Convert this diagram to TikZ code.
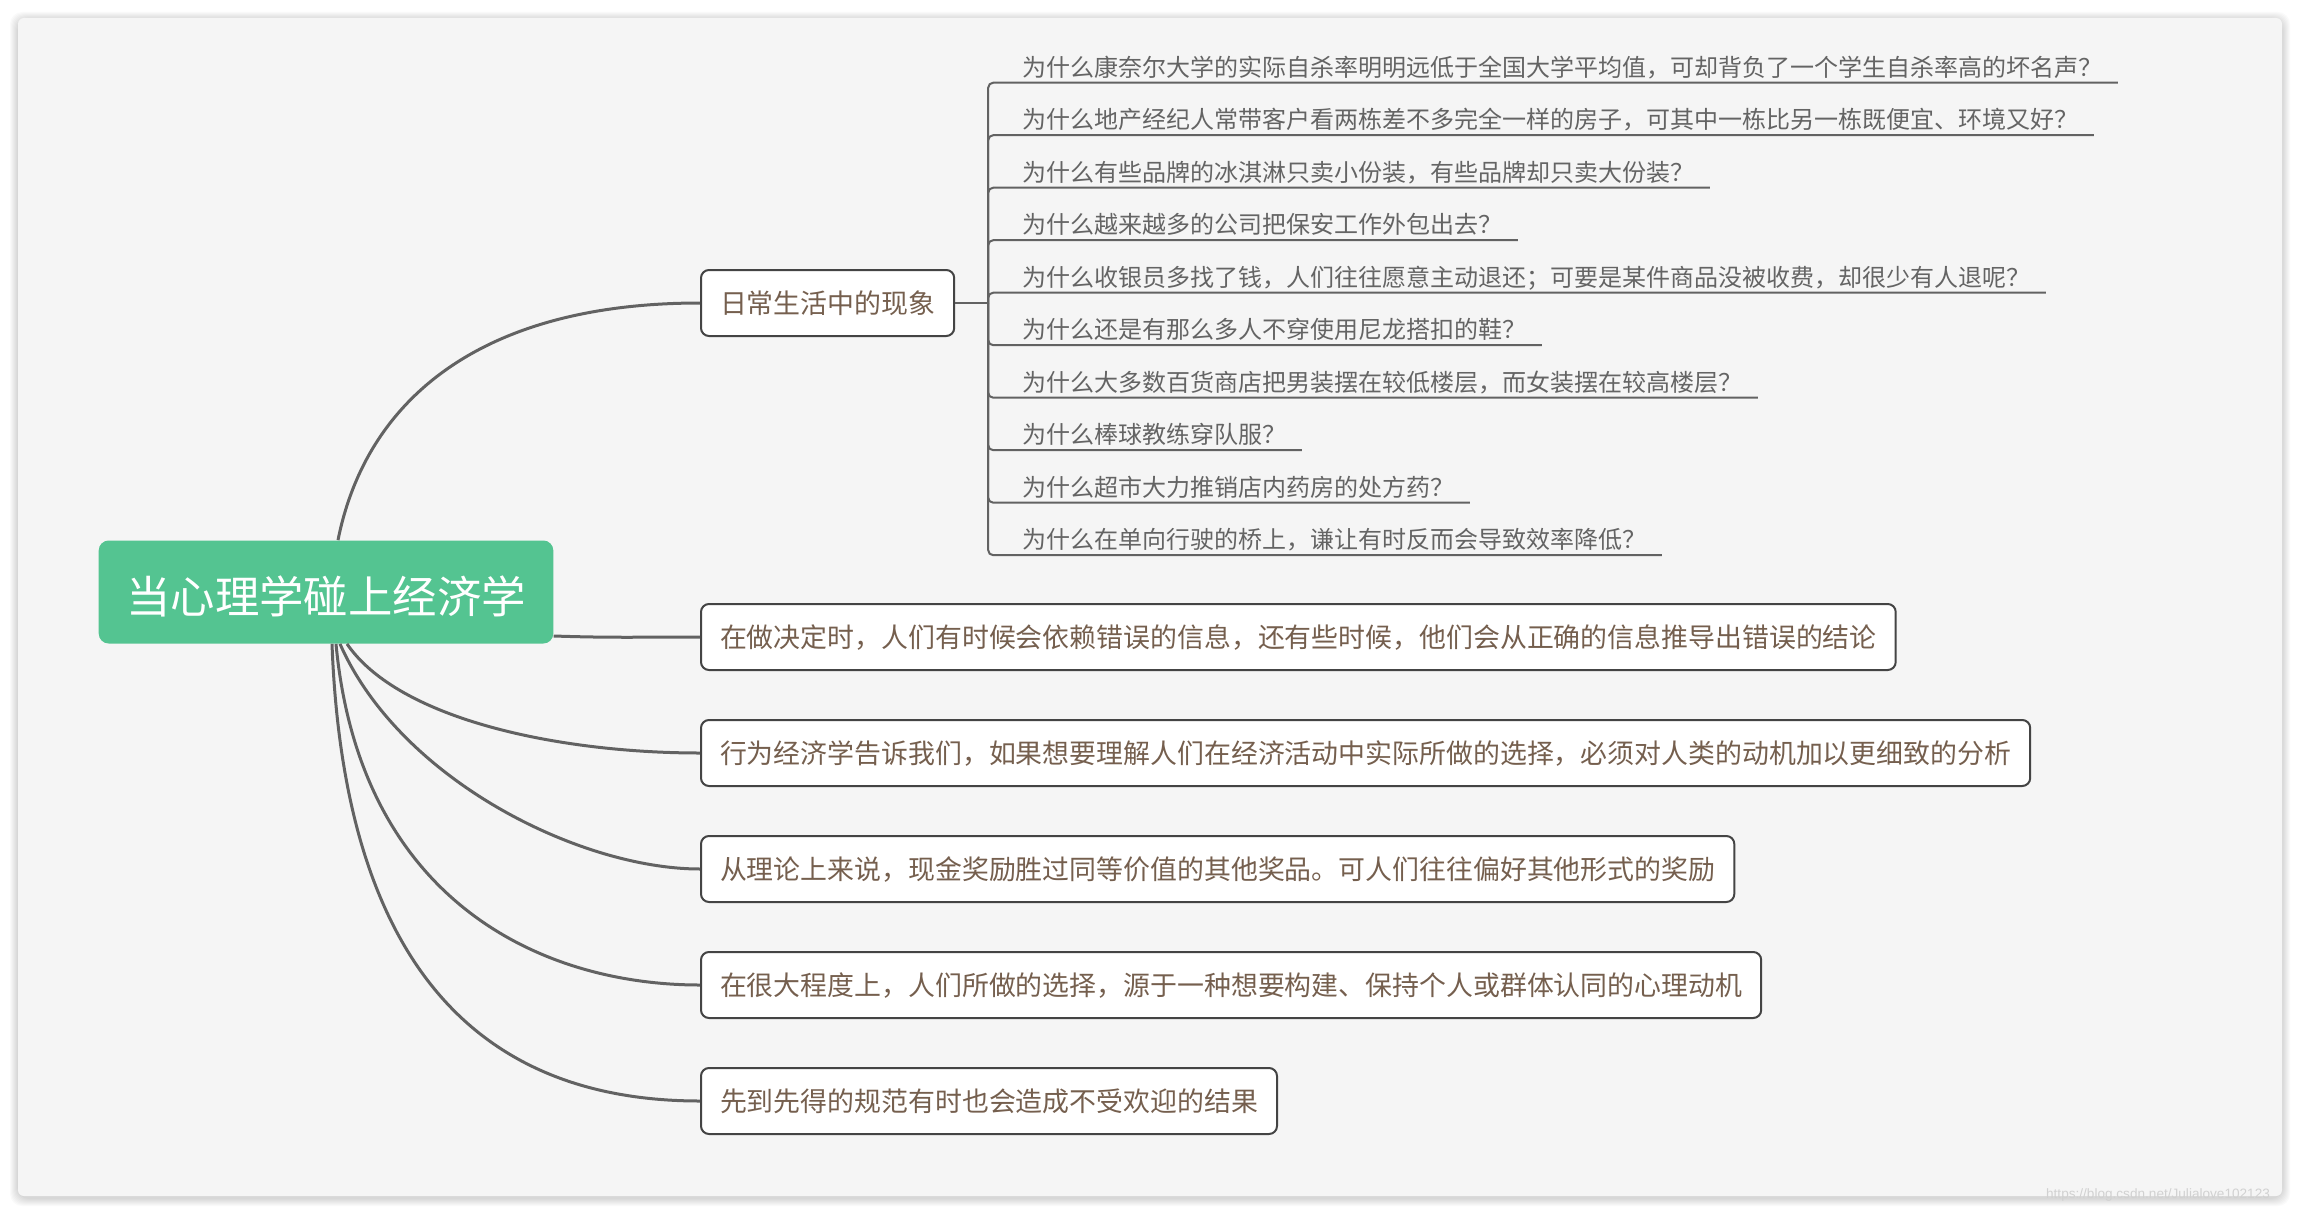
\documentclass[tikz,border=0pt]{standalone}
\usepackage{fontspec}
\setmainfont{Noto Sans CJK SC}
\newfontfamily\wmfont{Liberation Sans}
\usetikzlibrary{positioning}
\definecolor{mintgreen}{RGB}{84,196,145}
\definecolor{panelgray}{RGB}{245,245,245}
\definecolor{edgegray}{RGB}{68,68,68}
\definecolor{linkgray}{RGB}{98,98,98}
\definecolor{inkbrown}{RGB}{117,95,78}
\definecolor{inkgray}{RGB}{100,100,100}

\begin{document}
\begin{tikzpicture}[x=0.5pt,y=-0.5pt,
  topic/.style={rounded corners=4pt,draw=edgegray,line width=1pt,fill=white,text=inkbrown,font=\fontsize{13.45pt}{16pt}\selectfont,inner xsep=9.5pt,inner ysep=0pt,minimum height=33pt,text height=10.4pt,text depth=0pt},
  rootbox/.style={rounded corners=5pt,fill=mintgreen,text=white,font=\fontsize{22.2pt}{26pt}\selectfont,inner xsep=13.75pt,inner ysep=0pt,minimum height=51.5pt,text height=21.4pt,text depth=0pt},
  leaf/.style={anchor=south west,text=inkgray,font=\fontsize{12pt}{14pt}\selectfont,inner xsep=7.5pt,inner ysep=0pt,text height=9pt,text depth=3pt},
  link/.style={linkgray,line width=1.5pt},
  twig/.style={linkgray,line width=1pt,rounded corners=2.5pt}]
\useasboundingbox (0,0) rectangle (2300,1214);
\fill[white] (0,0) rectangle (2300,1214);
% panel with soft shadow
\foreach \s in {1,...,8} \fill[black,opacity=0.018,rounded corners=6pt] ({18-\s},{20-\s}) rectangle ({2282+\s},{1198+\s});
\fill[panelgray,rounded corners=3pt] (18,18) rectangle (2282,1196);
\node[rootbox] (root) at (326,592) {当心理学碰上经济学};
\node[topic,anchor=west] (daily) at (700,303) {日常生活中的现象};
\node[topic,anchor=west] (t1) at (700,637) {在做决定时，人们有时候会依赖错误的信息，还有些时候，他们会从正确的信息推导出错误的结论};
\node[topic,below right=24pt and 0pt of t1.south west] (t2) {行为经济学告诉我们，如果想要理解人们在经济活动中实际所做的选择，必须对人类的动机加以更细致的分析};
\node[topic,below right=24pt and 0pt of t2.south west] (t3) {从理论上来说，现金奖励胜过同等价值的其他奖品。可人们往往偏好其他形式的奖励};
\node[topic,below right=24pt and 0pt of t3.south west] (t4) {在很大程度上，人们所做的选择，源于一种想要构建、保持个人或群体认同的心理动机};
\node[topic,below right=24pt and 0pt of t4.south west] (t5) {先到先得的规范有时也会造成不受欢迎的结果};
% questions under the first topic
\foreach \i/\q in {1/{为什么康奈尔大学的实际自杀率明明远低于全国大学平均值，可却背负了一个学生自杀率高的坏名声？},
  2/{为什么地产经纪人常带客户看两栋差不多完全一样的房子，可其中一栋比另一栋既便宜、环境又好？},
  3/{为什么有些品牌的冰淇淋只卖小份装，有些品牌却只卖大份装？},
  4/{为什么越来越多的公司把保安工作外包出去？},
  5/{为什么收银员多找了钱，人们往往愿意主动退还；可要是某件商品没被收费，却很少有人退呢？},
  6/{为什么还是有那么多人不穿使用尼龙搭扣的鞋？},
  7/{为什么大多数百货商店把男装摆在较低楼层，而女装摆在较高楼层？},
  8/{为什么棒球教练穿队服？},
  9/{为什么超市大力推销店内药房的处方药？},
  10/{为什么在单向行驶的桥上，谦让有时反而会导致效率降低？}}
  \node[leaf] (q\i) at (1007,{30.2+52.5*\i}) {\q};
\coordinate (jn) at ([xshift=16.5pt]daily.east);
\draw[twig] (daily.east) -- (jn);
\foreach \i in {1,...,10} \draw[twig] (jn) |- (q\i.south east);
% links from the root
\draw[link] ([xshift=6pt]root.north) .. controls +(28,-140) and +(-220,0) .. (daily.west);
\draw[link] ([yshift=-22pt]root.east) .. controls +(60,2) and +(-60,0) .. (t1.west);
\draw[link] ([xshift=10.5pt]root.south) .. controls +(52,76) and +(-140,0) .. (t2.west);
\draw[link] ([xshift=7pt]root.south) .. controls +(60,136) and +(-120,0) .. (t3.west);
\draw[link] ([xshift=5pt]root.south) .. controls +(24,256) and +(-160,0) .. (t4.west);
\draw[link] ([xshift=3pt]root.south) .. controls +(13,346) and +(-200,0) .. (t5.west);
\node[text=black!18,font=\wmfont\fontsize{6.8pt}{8pt}\selectfont] (wm) at (2158,1195) {https://blog.csdn.net/Julialove102123};
\end{tikzpicture}
\end{document}
